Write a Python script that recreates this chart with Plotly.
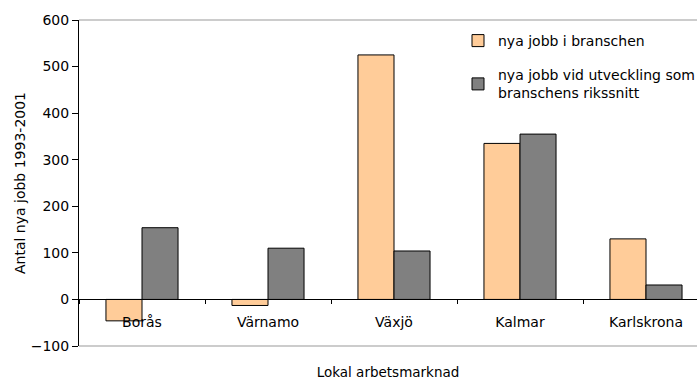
import plotly.graph_objects as go

# Lokala arbetsmarknader och antal nya jobb 1993-2001
kategorier = ["Borås", "Värnamo", "Växjö", "Kalmar", "Karlskrona"]
nya_jobb_bransch = [-46, -13, 525, 335, 130]
nya_jobb_rikssnitt = [154, 110, 104, 355, 31]

serie_namn = [
    "nya jobb i branschen",
    "nya jobb vid utveckling som<br>branschens rikssnitt",
]
y_ticks = [-100, 0, 100, 200, 300, 400, 500, 600]

FONT = "DejaVu Sans"
W, H = 697, 381
M_L, M_R, M_T, M_B = 79, 0, 20, 35
CAT_PX = 126  # bredd per kategori i pixlar

plot_w = W - M_L - M_R
x_max = -0.5 + plot_w / CAT_PX

fig = go.Figure()
fig.add_trace(go.Bar(
    x=kategorier, y=nya_jobb_bransch, name=serie_namn[0],
    marker=dict(color="#FFCC99", line=dict(color="#000000", width=1)),
    legendgroup="a",
))
fig.add_trace(go.Bar(
    x=kategorier, y=nya_jobb_rikssnitt, name=serie_namn[1],
    marker=dict(color="#808080", line=dict(color="#000000", width=1)),
    legendgroup="b",
))

y_min, y_max = y_ticks[0], y_ticks[-1]

fig.update_layout(
    width=W, height=H,
    margin=dict(l=M_L, r=M_R, t=M_T, b=M_B, pad=0, autoexpand=False),
    paper_bgcolor="white", plot_bgcolor="white",
    font=dict(family=FONT, size=14, color="black"),
    barmode="group", bargap=0.428, bargroupgap=0,
    showlegend=True,
    legend=dict(
        x=(458 - M_L) / plot_w, xanchor="left",
        y=1 - (25 - M_T) / (H - M_T - M_B), yanchor="top",
        bgcolor="rgba(0,0,0,0)", borderwidth=0,
        tracegroupgap=13, itemwidth=30,
        font=dict(family=FONT, size=14, color="black"),
    ),
    xaxis=dict(
        type="category", range=[-0.5, x_max],
        anchor="free", position=(0 - y_min) / (y_max - y_min),
        showline=True, linecolor="black", linewidth=1,
        ticks="outside", tickson="boundaries", ticklen=4, tickcolor="black",
        ticklabelstandoff=10,
        showgrid=False, zeroline=False,
        tickfont=dict(family=FONT, size=14, color="black"),
        title=dict(text="Lokal arbetsmarknad", standoff=38,
                   font=dict(family=FONT, size=13.5, color="black")),
    ),
    yaxis=dict(
        range=[y_min, y_max], tickvals=y_ticks,
        showline=True, linecolor="black", linewidth=1,
        ticks="outside", ticklen=6, tickcolor="black",
        showgrid=False, zeroline=False,
        tickfont=dict(family=FONT, size=14, color="black"),
        title=dict(text="Antal nya jobb 1993-2001", standoff=1,
                   font=dict(family=FONT, size=14, color="black")),
    ),
    shapes=[
        dict(type="line", xref="x domain", yref="y domain",
             x0=0, x1=1, y0=1, y1=1, line=dict(color="#999999", width=1)),
        dict(type="line", xref="x domain", yref="y domain",
             x0=0, x1=1, y0=0, y1=0, line=dict(color="#999999", width=1)),
    ],
)

fig.write_html("out.html")
